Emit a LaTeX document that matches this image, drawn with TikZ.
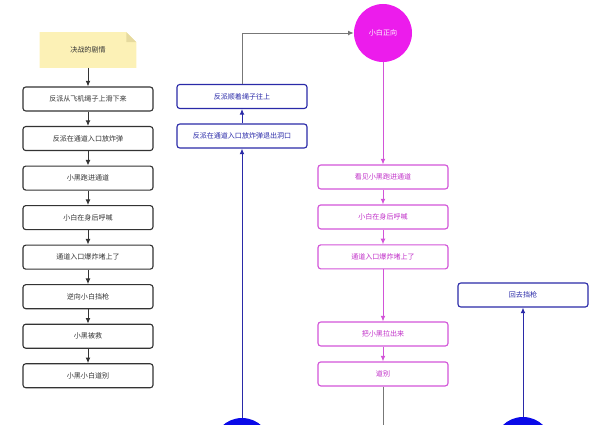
\documentclass[tikz,border=0pt]{standalone}
\usepackage{fontspec}
\setmainfont{Noto Sans CJK SC}
\usepackage{xcolor}
\usetikzlibrary{arrows.meta,positioning,calc}

\definecolor{notefill}{HTML}{FCF1B6}
\definecolor{notefold}{HTML}{E6DA9E}
\definecolor{boxline}{HTML}{333333}
\definecolor{blueline}{HTML}{2A2AA8}
\definecolor{bluefill}{HTML}{0A0AE8}
\definecolor{pinkline}{HTML}{D254D8}
\definecolor{pinkfill}{HTML}{EC1CEC}
\definecolor{pinktext}{HTML}{C030C8}
\definecolor{grayline}{HTML}{777777}

\begin{document}
\begin{tikzpicture}[
  x=0.025cm,y=-0.025cm,
  every node/.style={font=\fontsize{5pt}{6pt}\selectfont},
  plainbox/.style={rectangle,draw=boxline,line width=0.8pt,rounded corners=2pt,
                   minimum width=3.25cm,minimum height=0.6cm,text=boxline},
  bluebox/.style={plainbox,draw=blueline,text=blueline},
  pinkbox/.style={plainbox,draw=pinkline,text=pinktext},
  ring/.style={circle,minimum size=1.45cm,inner sep=0pt},
  arr/.style={-{Latex[length=4pt,width=3.5pt]},line width=0.7pt,draw=boxline},
  bluearr/.style={arr,draw=blueline},
  pinkarr/.style={arr,draw=pinkline},
  grayarr/.style={arr,draw=grayline}
]
  \useasboundingbox (0,0) rectangle (600,424);

  % note
  \node[minimum width=2.4cm,minimum height=0.875cm] (note) at (88,50) {};
  \fill[notefill] (note.south west) -- (note.north west) -- ($(note.north east)+(-10,0)$)
    -- ($(note.north east)+(0,10)$) -- (note.south east) -- cycle;
  \fill[notefold] ($(note.north east)+(-10,0)$) -- ($(note.north east)+(-10,10)$)
    -- ($(note.north east)+(0,10)$) -- cycle;
  \node[text=boxline] at (note) {决战的剧情};

  % left column
  \node[plainbox] (l1) at (88,99) {反派从飞机绳子上滑下来};
  \node[plainbox,below=0.36cm of l1] (l2) {反派在通道入口放炸弹};
  \node[plainbox,below=0.36cm of l2] (l3) {小黑跑进通道};
  \node[plainbox,below=0.36cm of l3] (l4) {小白在身后呼喊};
  \node[plainbox,below=0.36cm of l4] (l5) {通道入口爆炸堵上了};
  \node[plainbox,below=0.36cm of l5] (l6) {逆向小白挡枪};
  \node[plainbox,below=0.36cm of l6] (l7) {小黑被救};
  \node[plainbox,below=0.36cm of l7] (l8) {小黑小白道别};

  \draw[arr] (note) -- (l1);
  \foreach \a/\b in {l1/l2,l2/l3,l3/l4,l4/l5,l5/l6,l6/l7,l7/l8}
    \draw[arr] (\a) -- (\b);

  % blue column
  \node[bluebox] (b2) at (242,136) {反派在通道入口放炸弹退出洞口};
  \node[bluebox,above=0.36cm of b2] (b1) {反派顺着绳子往上};
  \node[ring,fill=bluefill] (bc1) at (242,447) {};

  \draw[bluearr] (bc1) -- (b2);
  \draw[bluearr] (b2) -- (b1);

  % pink column
  \node[ring,fill=pinkfill,text=white] (pc) at (383,33) {小白正向};
  \node[pinkbox] (m1) at (383,177) {看见小黑跑进通道};
  \node[pinkbox,below=0.37cm of m1] (m2) {小白在身后呼喊};
  \node[pinkbox,below=0.37cm of m2] (m3) {通道入口爆炸堵上了};
  \node[pinkbox] (m4) at (383,334) {把小黑拉出来};
  \node[pinkbox,below=0.37cm of m4] (m5) {道别};
  \coordinate (exit) at (383,430);

  \draw[grayarr] (b1.north) |- (pc.west);
  \draw[pinkarr] (pc) -- (m1);
  \foreach \a/\b in {m1/m2,m2/m3,m3/m4,m4/m5}
    \draw[pinkarr] (\a) -- (\b);
  \draw[line width=0.7pt,draw=grayline] (m5) -- (exit);

  % right
  \node[bluebox] (r1) at (523,295) {回去挡枪};
  \node[ring,fill=bluefill] (bc2) at (523,446) {};
  \draw[bluearr] (bc2) -- (r1);
\end{tikzpicture}
\end{document}
